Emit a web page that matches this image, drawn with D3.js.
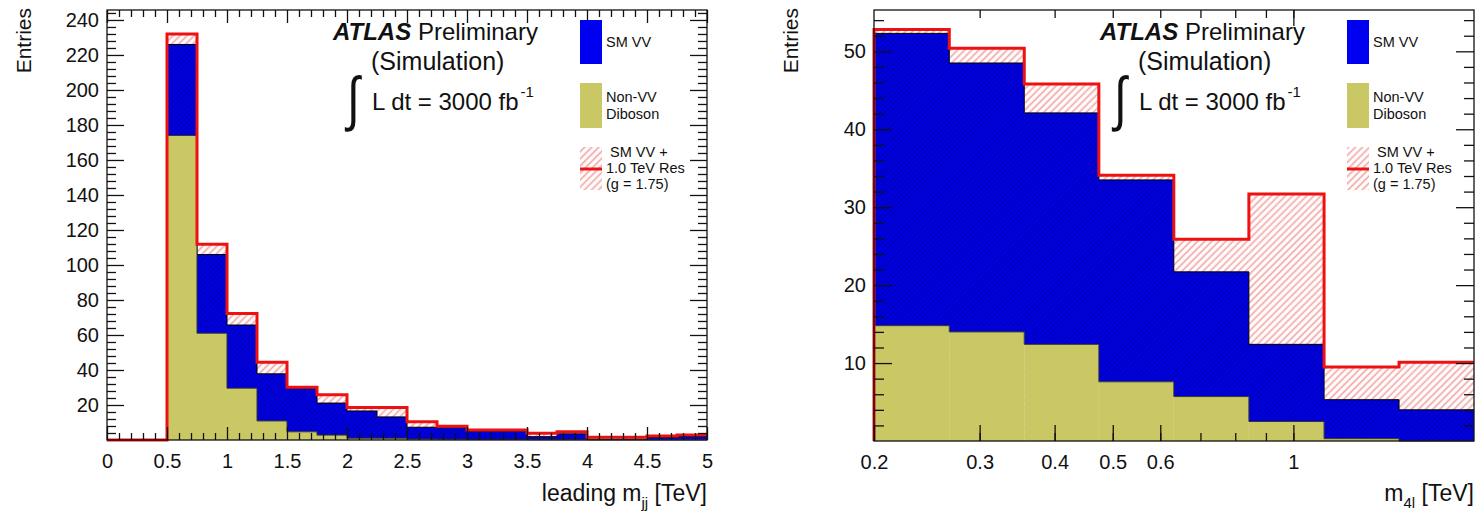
<!DOCTYPE html>
<html><head><meta charset="utf-8">
<script src="https://cdn.jsdelivr.net/npm/d3@7"></script>
<style>body{margin:0;background:#fff}svg{display:block}text{font-family:"Liberation Sans",Arial,Helvetica,sans-serif;fill:#111}</style>
</head><body><svg id="c" width="1477" height="520"></svg>
<script>
// ---- data: left panel (leading m_jj, 0.25 TeV bins) ----
const leftEdges = [0,0.25,0.5,0.75,1,1.25,1.5,1.75,2,2.25,2.5,2.75,3,3.25,3.5,3.75,4,4.25,4.5,4.75,5];
const leftNonVV = [0,0,174,61,29.6,10.9,4.7,2.8,1.0,1.0,0.5,0.4,0.3,0.3,0.2,0.2,0.1,0.1,0.1,0.1];
const leftSMVV  = [0,0,52,45,36.1,26.9,24.7,18.3,15.6,12.2,6.8,6.6,4.7,4.7,1.7,3.3,0.4,0.4,1.4,1.9];
const leftSignal= [0,0,232,111.8,72.3,44.4,30.2,25.9,18.5,18.5,10.4,7.9,5.7,5.7,3.8,4.7,1.5,1.5,2.3,2.8];
const leftYTicks = [20,40,60,80,100,120,140,160,180,200,220,240];
const leftXTicks = [0,0.5,1,1.5,2,2.5,3,3.5,4,4.5,5];
// ---- data: right panel (m_4l, log bins) ----
const rightEdges = [0.2,0.267,0.356,0.474,0.632,0.843,1.125,1.5,2.0];
const rightNonVV = [14.8,14.0,12.4,7.6,5.7,2.5,0.3,0];
const rightSMVV  = [37.5,34.5,29.7,25.9,16.0,9.9,5.0,4.0];
const rightSignal= [52.8,50.4,45.8,34.1,25.9,31.7,9.5,10.1];
const rightYTicks = [10,20,30,40,50];
const rightXLabels = [0.2,0.3,0.4,0.5,0.6,1];
const rightXTicks = [0.3,0.4,0.5,0.6,0.7,0.8,0.9,1];
const legendLabels = [["SM VV"],["Non-VV","Diboson"],["SM VV +","1.0 TeV Res","(g = 1.75)"]];

const svg = d3.select("#c");
const defs = svg.append("defs");
function hatch(id, bg, col, w, per){
  const p = defs.append("pattern").attr("id",id).attr("patternUnits","userSpaceOnUse")
    .attr("width",per).attr("height",per).attr("patternTransform","rotate(45)");
  p.append("rect").attr("width",per).attr("height",per).attr("fill",bg);
  p.append("line").attr("x1",per/2).attr("x2",per/2).attr("y1",0).attr("y2",per).attr("stroke",col).attr("stroke-width",w);
}
hatch("sig","#fff","#f2a3a3",1.6,5);
hatch("blu","#0000e8","#00008a",0.8,3.5);

const BLUE="url(#blu)", OLIVE="#c9c864", RED="#ee1111";

function panel(o){
  const g = svg.append("g");
  const x = o.xs, y = o.ys;
  const n = o.edges.length-1;
  const bins = d3.range(n).map(i=>({x0:o.edges[i],x1:o.edges[i+1],a:o.nonvv[i],b:o.nonvv[i]+o.smvv[i],s:o.sig[i]}));
  g.selectAll(".sg").data(bins).join("rect")
    .attr("x",d=>x(d.x0)).attr("width",d=>x(d.x1)-x(d.x0))
    .attr("y",d=>y(d.s)).attr("height",d=>Math.max(0,y(0)-y(d.s))).attr("fill","url(#sig)");
  function step(vals){
    let p = "M"+x(o.edges[0])+","+y(0);
    bins.forEach((d,i)=>{ p += "L"+x(d.x0)+","+y(vals[i])+"L"+x(d.x1)+","+y(vals[i]); });
    return p;
  }
  function area(top, bot){
    let p = "M"+x(o.edges[0])+","+y(bot[0]);
    bins.forEach((d,i)=>{ p += "L"+x(d.x0)+","+y(top[i])+"L"+x(d.x1)+","+y(top[i]); });
    for(let i=n-1;i>=0;i--){ p += "L"+x(bins[i].x1)+","+y(bot[i])+"L"+x(bins[i].x0)+","+y(bot[i]); }
    return p+"Z";
  }
  const A = bins.map(d=>d.a), B = bins.map(d=>d.b), S = bins.map(d=>d.s);
  g.append("path").attr("d",area(B,A)).attr("fill",BLUE);
  g.append("path").attr("d",step(B)).attr("fill","none").attr("stroke","#000").attr("stroke-width",1);
  g.selectAll(".ol").data(bins.filter(d=>d.a>0)).join("rect")
    .attr("x",d=>x(d.x0)).attr("width",d=>x(d.x1)-x(d.x0))
    .attr("y",d=>y(d.a)).attr("height",d=>y(0)-y(d.a)).attr("fill",OLIVE);
  g.append("path").attr("d",step(A)).attr("fill","none").attr("stroke","#333").attr("stroke-width",1);
  g.append("path").attr("d",step(S)).attr("fill","none").attr("stroke",RED).attr("stroke-width",3).attr("stroke-linejoin","miter");
  const [X0,X1] = x.range(), [Y1,Y0] = y.range();
  g.append("rect").attr("x",X0).attr("y",Y0).attr("width",X1-X0).attr("height",Y1-Y0)
    .attr("fill","none").attr("stroke","#111").attr("stroke-width",1.3);
  const tk = (sel)=>sel.call(s=>s.select(".domain").remove()).selectAll("line").attr("stroke","#111").attr("stroke-width",1.3);
  g.append("g").attr("transform",`translate(0,${Y1})`).call(d3.axisBottom(x).tickValues(o.xMajor).tickSize(-o.xMajLen).tickPadding(14).tickFormat(o.xFmt))
    .call(tk).selectAll("text").attr("font-size",20).style("font-family","Liberation Sans, Arial");
  g.append("g").attr("transform",`translate(0,${Y1})`).call(d3.axisBottom(x).tickValues(o.xMinor).tickSize(-o.xMinLen).tickFormat("")).call(tk);
  g.append("g").attr("transform",`translate(0,${Y0})`).call(d3.axisTop(x).tickValues(o.xMajorTop||o.xMajor).tickSize(-o.xMajLen).tickFormat("")).call(tk);
  g.append("g").attr("transform",`translate(0,${Y0})`).call(d3.axisTop(x).tickValues(o.xMinor).tickSize(-o.xMinLen).tickFormat("")).call(tk);
  g.append("g").attr("transform",`translate(${X0},0)`).call(d3.axisLeft(y).tickValues(o.yMajor).tickSize(-o.yMajLen).tickPadding(8).tickFormat(d3.format("d")))
    .call(tk).selectAll("text").attr("font-size",20).style("font-family","Liberation Sans, Arial");
  g.append("g").attr("transform",`translate(${X0},0)`).call(d3.axisLeft(y).tickValues(o.yMinor).tickSize(-o.yMinLen).tickFormat("")).call(tk);
  g.append("g").attr("transform",`translate(${X1},0)`).call(d3.axisRight(y).tickValues(o.yMajor).tickSize(-o.yMajLen).tickFormat("")).call(tk);
  g.append("g").attr("transform",`translate(${X1},0)`).call(d3.axisRight(y).tickValues(o.yMinor).tickSize(-o.yMinLen).tickFormat("")).call(tk);
  // y title
  g.append("text").attr("transform",`translate(${X0-76},${Y0-2}) rotate(-90)`).attr("text-anchor","end").attr("font-size",21).text("Entries");
  // x title
  const t = g.append("text").attr("x",X1).attr("y",501).attr("text-anchor","end").attr("font-size",23);
  t.append("tspan").text(o.xt[0]);
  t.append("tspan").attr("font-size",15).attr("dy",7).text(o.xt[1]);
  t.append("tspan").attr("dy",-7).text(" [TeV]");
  // ATLAS label
  const lx = X0+226;
  const a = g.append("text").attr("x",lx).attr("y",40).attr("font-size",24);
  a.append("tspan").attr("font-weight","bold").attr("font-style","italic").text("ATLAS");
  a.append("tspan").text(" Preliminary");
  g.append("text").attr("x",X0+264).attr("y",70).attr("font-size",25).text("(Simulation)");
  g.append("text").attr("transform",`translate(${X0+240},${119}) scale(1,1.3)`).attr("font-size",46).text("\u222B");
  const l = g.append("text").attr("x",X0+265).attr("y",110).attr("font-size",24);
  l.append("tspan").text("L dt = 3000 fb");
  l.append("tspan").attr("font-size",15).attr("dy",-13).attr("dx",2).text("-1");
  // legend
  const bx = X0+473;
  g.append("rect").attr("x",bx).attr("y",20).attr("width",22).attr("height",44).attr("fill","#0000f0");
  g.append("rect").attr("x",bx).attr("y",83).attr("width",22).attr("height",45).attr("fill",OLIVE);
  g.append("rect").attr("x",bx).attr("y",147).attr("width",22).attr("height",43).attr("fill","url(#sig)");
  g.append("line").attr("x1",bx).attr("x2",bx+22).attr("y1",169).attr("y2",169).attr("stroke",RED).attr("stroke-width",3);
  g.append("text").attr("x",bx+26).attr("y",47).attr("font-size",14.5).text(legendLabels[0][0]);
  legendLabels[1].forEach((s,i)=>g.append("text").attr("x",bx+26).attr("y",102+i*17).attr("font-size",14.5).text(s));
  legendLabels[2].forEach((s,i)=>g.append("text").attr("x",bx+(i==0?30:26)).attr("y",157+i*16).attr("font-size",14.5).text(s));
}

const xL = d3.scaleLinear().domain([0,5]).range([107,707]);
const yL = d3.scaleLinear().domain([0,245.7]).range([440,10]);
panel({xs:xL, ys:yL, edges:leftEdges, nonvv:leftNonVV, smvv:leftSMVV, sig:leftSignal,
  xMajor:leftXTicks, xMinor:d3.range(0,51).map(i=>i/10).filter(v=>Math.abs(v*2-Math.round(v*2))>1e-6),
  xMajLen:13, xMinLen:7, xFmt:d=>String(d),
  yMajor:leftYTicks, yMinor:d3.range(4,246,4).filter(v=>v%20), yMajLen:17, yMinLen:9,
  xt:["leading m","jj"]});

const xR = d3.scaleLog().domain([0.2,2.0]).range([874,1474]);
const yR = d3.scaleLinear().domain([0,55.3]).range([441,10]);
panel({xs:xR, ys:yR, edges:rightEdges, nonvv:rightNonVV, smvv:rightSMVV, sig:rightSignal,
  xMajor:rightXLabels, xMajorTop:[1], xMinor:rightXTicks, xMajLen:16, xMinLen:8, xFmt:d=>String(d),
  yMajor:rightYTicks, yMinor:d3.range(2,55,2).filter(v=>v%10), yMajLen:18, yMinLen:10,
  xt:["m","4l"]});
</script></body></html>
